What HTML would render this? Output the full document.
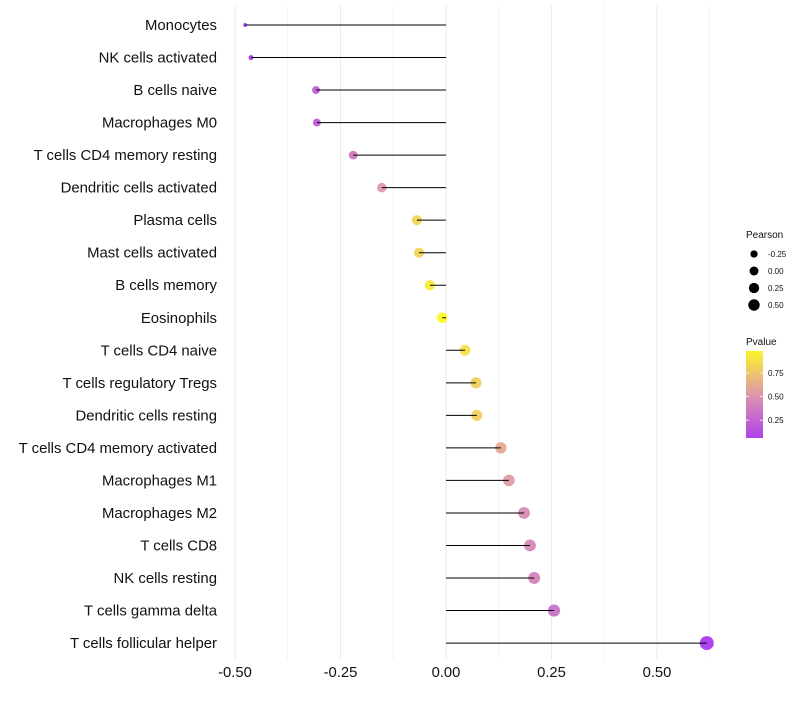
<!DOCTYPE html>
<html><head><meta charset="utf-8"><style>
body{margin:0;background:#fff;font-family:"Liberation Sans",sans-serif}
</style></head><body>
<svg id="chart" width="800" height="700" xmlns="http://www.w3.org/2000/svg"></svg>
<script>
const categories=["Monocytes","NK cells activated","B cells naive","Macrophages M0","T cells CD4 memory resting","Dendritic cells activated","Plasma cells","Mast cells activated","B cells memory","Eosinophils","T cells CD4 naive","T cells regulatory  Tregs ","Dendritic cells resting","T cells CD4 memory activated","Macrophages M1","Macrophages M2","T cells CD8","NK cells resting","T cells gamma delta","T cells follicular helper"];
const pearson=[-0.476,-0.462,-0.308,-0.306,-0.220,-0.152,-0.069,-0.064,-0.038,-0.009,0.045,0.071,0.073,0.130,0.149,0.185,0.199,0.209,0.256,0.618];
const pvalue=[0.04,0.05,0.2,0.2,0.35,0.5,0.8,0.8,0.9,0.97,0.85,0.77,0.77,0.6,0.52,0.45,0.43,0.4,0.3,0.01];
const xTicks=[-0.5,-0.25,0,0.25,0.5];
const xTickLabels=["-0.50","-0.25","0.00","0.25","0.50"];
const sizeLegend=[-0.25,0,0.25,0.5];
const colorTicks=[0.25,0.5,0.75];

const NS="http://www.w3.org/2000/svg";
const svg=document.getElementById('chart');
function el(t,a,p){const e=document.createElementNS(NS,t);for(const k in a)e.setAttribute(k,a[k]);(p||svg).appendChild(e);return e;}
const x=v=>446+v*422;
const y=i=>25+i*32.53;
const vmin=Math.min(...pearson),vmax=Math.max(...pearson);
const r=v=>2+5*Math.sqrt(Math.max(0,(v-vmin)/(vmax-vmin)));
function col(p){
  const stops=[[0,[160,32,240]],[0.5,[218,138,165]],[1,[255,255,0]]];
  const t=Math.max(0,Math.min(1,p));
  let a=stops[0],b=stops[1];if(t>0.5){a=stops[1];b=stops[2];}
  const u=(t-a[0])/(b[0]-a[0]);
  return 'rgb('+a[1].map((c,k)=>Math.round(c+(b[1][k]-c)*u)).join(',')+')';
}
// grid
for(let k=0;k<=9;k++){
  const v=-0.5+k*0.125;
  const g=el('line',{x1:x(v),x2:x(v),y1:5,y2:660,stroke:'#ebebeb','stroke-width':k%2===0?1:0.6});
  
}
xTicks.forEach((v,i)=>{
  const t=el('text',{x:x(v),y:677,'text-anchor':'middle','font-size':14.8,fill:'#111'});
  t.textContent=xTickLabels[i];
  
});
categories.forEach((c,i)=>{
  const t=el('text',{x:217,y:y(i)+5,'text-anchor':'end','font-size':14.9,fill:'#111'});
  t.textContent=c;
  
  const d=el('circle',{cx:x(pearson[i]),cy:y(i),r:r(pearson[i]),fill:col(pvalue[i]),'fill-opacity':0.85});
  
  const l=el('line',{x1:x(0),x2:x(pearson[i]),y1:y(i),y2:y(i),stroke:'#000','stroke-width':1});
  
});
// size legend
let t=el('text',{x:746,y:238,'font-size':10,fill:'#111'});t.textContent='Pearson';

sizeLegend.forEach((v,i)=>{
  const cy=254+i*17;
  const c=el('circle',{cx:754,cy:cy,r:r(v)*0.85,fill:'#000'});
  
  const s=el('text',{x:768,y:cy+3,'font-size':8,fill:'#111'});s.textContent=v.toFixed(2);
  
});
// color legend
t=el('text',{x:746,y:345,'font-size':10,fill:'#111'});t.textContent='Pvalue';

const defs=el('defs',{});
const lg=el('linearGradient',{id:'pg',x1:0,y1:1,x2:0,y2:0},defs);
for(let k=0;k<=10;k++){const p=0.06+k*0.089;el('stop',{offset:k/10,'stop-color':col(p),'stop-opacity':0.9},lg);}
const bar=el('rect',{x:746,y:351,width:17,height:87,fill:'url(#pg)'});

const cy=p=>438-(p-0.06)/0.25*23.5;
colorTicks.forEach(p=>{
  el('line',{x1:746,x2:749,y1:cy(p),y2:cy(p),stroke:'#fff','stroke-width':0.8});
  el('line',{x1:760,x2:763,y1:cy(p),y2:cy(p),stroke:'#fff','stroke-width':0.8});
  const s=el('text',{x:768,y:cy(p)+3,'font-size':8,fill:'#111'});s.textContent=p.toFixed(2);
  
});
</script>
</body></html>
